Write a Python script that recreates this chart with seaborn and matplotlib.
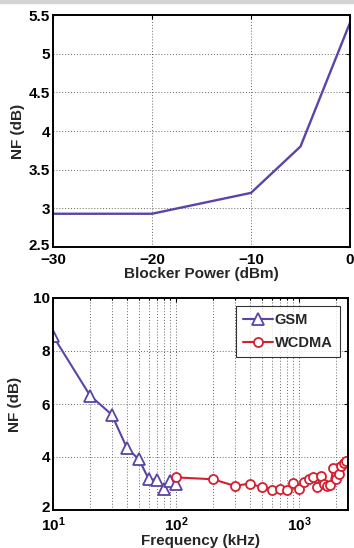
import matplotlib
matplotlib.use("Agg")
import matplotlib.pyplot as plt
import matplotlib.ticker as mticker
import matplotlib.transforms as mtransforms
from matplotlib.font_manager import FontProperties
import seaborn as sns
import numpy as np

# ---- data ----
blocker_power = [-30, -20, -10, -5, 0]
nf_blocker = [2.93, 2.93, 3.2, 3.8, 5.4]

gsm_freq = [10, 20, 30, 40, 50, 60, 70, 80, 90, 100]
gsm_nf = [8.57, 6.32, 5.6, 4.33, 3.91, 3.16, 3.14, 2.79, 3.1, 3.0]

wcdma_freq = [100, 200, 300, 400, 500, 600, 700, 800, 900, 1000,
              1100, 1200, 1300, 1400, 1500, 1600, 1700, 1800, 1900, 2000,
              2100, 2200, 2300, 2400]
wcdma_nf = [3.23, 3.16, 2.91, 3.0, 2.85, 2.77, 2.8, 2.74, 3.03, 2.80,
            3.06, 3.17, 3.23, 2.88, 3.28, 3.0, 2.91, 2.95, 3.6, 3.16,
            3.35, 3.66, 3.79, 3.85]

top_yticks = [2.5, 3, 3.5, 4, 4.5, 5, 5.5]
top_ylabels = ["2.5", "3", "3.5", "4", "4.5", "5", "5.5"]
top_xticks = [-30, -20, -10, 0]
top_xlabels = ["\u221230", "\u221220", "\u221210", "0"]
bot_yticks = [2, 4, 6, 8, 10]

purple = "#5b44a6"
red = "#d42030"

sns.set_theme(style="white")
plt.rcParams['font.family'] = ['Liberation Sans', 'DejaVu Sans']
plt.rcParams['font.weight'] = 'bold'
plt.rcParams['axes.labelweight'] = 'bold'

tick_fp = FontProperties(family='Liberation Sans', weight='bold', size=11)
lab_fp = FontProperties(family='Liberation Sans', weight='bold', size=11)
leg_fp = FontProperties(family='Liberation Sans', weight='bold', size=10.5)

fig = plt.figure(figsize=(3.54, 5.48), dpi=100)
fig.patch.set_facecolor("white")
fig.patches.append(matplotlib.patches.Rectangle((0, 1 - 3 / 548), 1, 3 / 548,
                   transform=fig.transFigure, color="#d4d4d4", zorder=0))

ax1 = fig.add_axes([53 / 354, (548 - 247) / 548, 297 / 354, 232 / 548])
ax2 = fig.add_axes([53 / 354, (548 - 510) / 548, 295 / 354, 212 / 548])

sns.lineplot(x=blocker_power, y=nf_blocker, ax=ax1, color=purple, lw=1.7)
ax1.set_xlim(-30, 0)
ax1.set_ylim(2.5, 5.5)
ax1.set_xticks(top_xticks)
ax1.set_xticklabels(top_xlabels)
ax1.set_yticks(top_yticks)
ax1.set_yticklabels(top_ylabels)
ax1.set_xlabel("Blocker Power (dBm)", fontproperties=lab_fp, labelpad=0)
ax1.set_ylabel("NF (dB)", fontproperties=lab_fp, labelpad=3)

sns.lineplot(x=gsm_freq, y=gsm_nf, ax=ax2, color=purple, lw=1.5, marker="^",
             markersize=8, markerfacecolor="white", markeredgecolor=purple,
             markeredgewidth=1.3, label="GSM")
sns.lineplot(x=wcdma_freq, y=wcdma_nf, ax=ax2, color=red, lw=1.5, marker="o",
             markersize=6.5, markerfacecolor="white", markeredgecolor=red,
             markeredgewidth=1.3, label="WCDMA")
ax2.set_xscale("log")
ax2.set_xlim(10, 2500)
ax2.set_ylim(2, 10)
ax2.set_yticks(bot_yticks)
ax2.xaxis.set_major_locator(mticker.LogLocator(base=10, numticks=10))
ax2.xaxis.set_minor_locator(mticker.LogLocator(base=10, subs=np.arange(2, 10), numticks=20))
ax2.xaxis.set_minor_formatter(mticker.NullFormatter())
ax2.set_xlabel("Frequency (kHz)", fontproperties=lab_fp, labelpad=0)
ax2.set_ylabel("NF (dB)", fontproperties=lab_fp, labelpad=8)

leg = ax2.legend(loc="upper right", prop=leg_fp, frameon=True, fancybox=False,
                 handlelength=2.0, handletextpad=0.15, borderpad=0.5,
                 labelspacing=0.6, borderaxespad=0.55)
leg.get_frame().set_edgecolor("black")
leg.get_frame().set_linewidth(0.8)

for ax in (ax1, ax2):
    for s in ax.spines.values():
        s.set_color("black")
        s.set_linewidth(1.4)
    ax.tick_params(axis="both", which="both", direction="in", top=True,
                   right=True, length=3, width=0.8, colors="black", pad=2)
    ax.tick_params(axis="x", which="major", pad=4)
    ax.tick_params(which="minor", length=1.5)
    ax.grid(True, which="major", linestyle=(0, (1, 2)), color="#666666", lw=0.7)
    ax.set_axisbelow(True)
ax2.grid(True, which="minor", axis="x", linestyle=(0, (1, 2)), color="#666666", lw=0.7)

fig.canvas.draw()
for ax in (ax1, ax2):
    for lab in ax.get_xticklabels() + ax.get_yticklabels():
        lab.set_fontproperties(tick_fp)

# raise the lowest y tick label slightly, as in the reference
shift = mtransforms.ScaledTranslation(0, 3 / 100, fig.dpi_scale_trans)
for ax in (ax1, ax2):
    for tick in ax.yaxis.get_major_ticks()[:1]:
        tick.label1.set_transform(tick.label1.get_transform() + shift)

fig.savefig("out.png", dpi=100)
